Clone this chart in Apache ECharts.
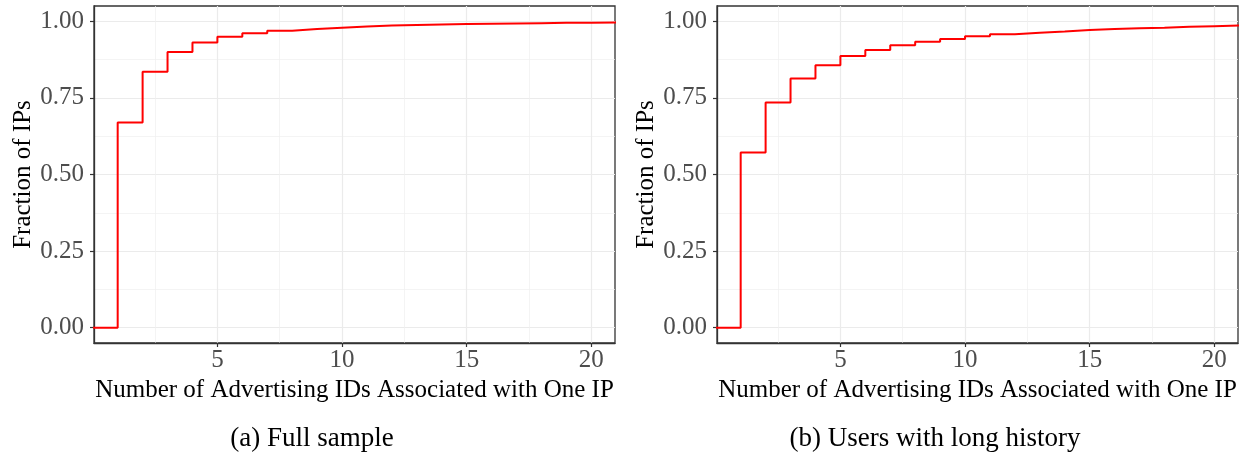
<!DOCTYPE html>
<html>
<head>
<meta charset="utf-8">
<script src="https://cdn.jsdelivr.net/npm/echarts@6/dist/echarts.min.js"></script>
<style>
  html, body { margin: 0; padding: 0; background: #fff; }
  #chart { width: 1245px; height: 459px; }
</style>
</head>
<body>
<div id="chart"></div>
<script>
// number of advertising IDs per IP (0 and 21 stand in for the -Inf / +Inf ends of the ecdf)
const idCounts = [0, 1, 2, 3, 4, 5, 6, 7, 8, 9, 10, 11, 12, 13, 14, 15, 16, 17, 18, 19, 20, 21];
// cumulative fraction of IPs
const fullSample  = [0, 0.670, 0.835, 0.900, 0.931, 0.950, 0.961, 0.969, 0.975, 0.979, 0.983,
                     0.986, 0.988, 0.990, 0.991, 0.992, 0.993, 0.994, 0.995, 0.995, 0.996, 0.996];
const longHistory = [0, 0.572, 0.735, 0.813, 0.857, 0.887, 0.906, 0.922, 0.933, 0.942, 0.951,
                     0.958, 0.963, 0.967, 0.972, 0.975, 0.977, 0.979, 0.982, 0.984, 0.986, 0.986];

const xMajor = [5, 10, 15, 20];
const xMinor = [2.5, 7.5, 12.5, 17.5];
const yMajor = [0, 0.25, 0.5, 0.75, 1];
const yMinor = [0.125, 0.375, 0.625, 0.875];

const captions = ['(a) Full sample', '(b) Users with long history'];
const xTitle = 'Number of Advertising IDs Associated with One IP';
const yTitle = 'Fraction of IPs';

const FONT = '"Liberation Serif", "Times New Roman", serif';
const panels = [
  { left: 94, data: fullSample, capX: 312 },
  { left: 717, data: longHistory, capX: 935 }
];

const grids = [], xAxes = [], yAxes = [], series = [], titles = [];

panels.forEach((p, i) => {
  grids.push({
    left: p.left, top: 6, width: 521, height: 337,
    show: true, borderColor: '#333333', borderWidth: 1.3, backgroundColor: '#fff'
  });

  // major x axis
  xAxes.push({
    type: 'value', gridIndex: i, min: 0.05, max: 20.95, position: 'bottom',
    name: xTitle, nameLocation: 'middle', nameGap: 27,
    nameTextStyle: { fontFamily: FONT, fontSize: 25, color: '#000' },
    axisLine: { show: true, onZero: false, lineStyle: { color: '#333', width: 1.3 } },
    axisTick: { show: true, inside: false, length: 4, lineStyle: { color: '#333', width: 1.2 }, customValues: xMajor },
    axisLabel: { fontFamily: FONT, fontSize: 25, color: '#4D4D4D', margin: 5, customValues: xMajor },
    splitLine: { show: true, lineStyle: { color: '#EBEBEB', width: 1.2 } }
  });
  // minor x gridlines
  xAxes.push({
    type: 'value', gridIndex: i, min: 0.05, max: 20.95,
    axisLine: { show: false }, axisLabel: { show: false },
    axisTick: { show: false, customValues: xMinor },
    splitLine: { show: true, lineStyle: { color: '#EFEFEF', width: 0.7 } }
  });

  yAxes.push({
    type: 'value', gridIndex: i, min: -0.05, max: 1.05, position: 'left',
    name: yTitle, nameLocation: 'middle', nameGap: 58,
    nameTextStyle: { fontFamily: FONT, fontSize: 25, color: '#000' },
    axisLine: { show: true, onZero: false, lineStyle: { color: '#333', width: 1.3 } },
    axisTick: { show: true, inside: false, length: 4, lineStyle: { color: '#333', width: 1.2 }, customValues: yMajor },
    axisLabel: { fontFamily: FONT, fontSize: 25, color: '#4D4D4D', margin: 10, customValues: yMajor,
                 formatter: v => v.toFixed(2) },
    splitLine: { show: true, lineStyle: { color: '#EBEBEB', width: 1.2 } }
  });
  yAxes.push({
    type: 'value', gridIndex: i, min: -0.05, max: 1.05,
    axisLine: { show: false }, axisLabel: { show: false },
    axisTick: { show: false, customValues: yMinor },
    splitLine: { show: true, lineStyle: { color: '#EFEFEF', width: 0.7 } }
  });

  series.push({
    type: 'line', xAxisIndex: i * 2, yAxisIndex: i * 2, step: 'end',
    data: idCounts.map((x, k) => [x, p.data[k]]),
    showSymbol: false, clip: true, silent: true,
    lineStyle: { color: '#FF0000', width: 2 }
  });

  titles.push({
    text: captions[i], left: p.capX, top: 425, textAlign: 'center', padding: 0,
    textStyle: { fontFamily: FONT, fontSize: 27, fontWeight: 'normal', color: '#000' }
  });
});

const chart = echarts.init(document.getElementById('chart'), null, { renderer: 'canvas' });
chart.setOption({
  animation: false,
  title: titles,
  grid: grids,
  xAxis: xAxes,
  yAxis: yAxes,
  series: series
});
</script>
</body>
</html>
